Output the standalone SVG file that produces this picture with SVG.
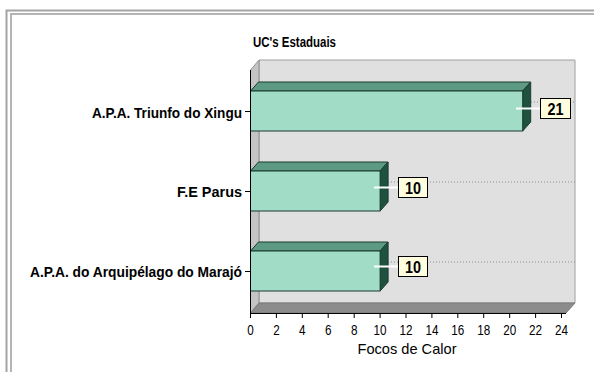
<svg xmlns="http://www.w3.org/2000/svg" width="594" height="372" viewBox="0 0 594 372">
<style>
.lbl{font-family:"Liberation Sans",Arial,sans-serif;font-weight:bold;font-size:14px;fill:#000}
.tick{font-family:"Liberation Sans",Arial,sans-serif;font-size:15px;fill:#000;text-anchor:middle}
.val{font-family:"Liberation Sans",Arial,sans-serif;font-weight:bold;font-size:16px;fill:#000;text-anchor:middle}
.front{fill:#a0dcc6;stroke:#1c3a30;stroke-width:1}
.top{fill:#5c9a83;stroke:#1c3a30;stroke-width:1}
.side{fill:#1f5141;stroke:#1c3a30;stroke-width:1}
.box{fill:#ffffe0;stroke:#000;stroke-width:1}
.conn{stroke:#ffffff;stroke-width:2}
.dot{stroke:#909090;stroke-width:1;stroke-dasharray:1 2}
.ax{stroke:#000;stroke-width:1;fill:none}
</style>
<rect width="594" height="372" fill="#ffffff"/>
<g id="frame" fill="none">
<path d="M6.5 380 V10.5 H600" stroke="#a4a4a4" stroke-width="2"/>
<path d="M11 380 V14 H600" stroke="#b4b4b4" stroke-width="2"/>
</g>
<text id="title" class="lbl" x="253" y="47" textLength="83" lengthAdjust="spacingAndGlyphs">UC's Estaduais</text>
<g id="plot">
<polygon points="259,60 575,60 575,303 259,303" fill="#e0e0e0" stroke="#a0a0a0" stroke-width="1"/>
<polygon points="250.5,70 259,60 259,303 250.5,313" fill="#c4c4c4" stroke="#909090" stroke-width="1"/>
<polygon points="250.5,313 259,303 575,303 566,313" fill="#8c8c8c" stroke="#7a7a7a" stroke-width="1"/>
</g>
<g id="connectors">
<line class="dot" x1="531" y1="102" x2="575" y2="102"/>
<line class="dot" x1="388" y1="182" x2="575" y2="182"/>
<line class="dot" x1="388" y1="262" x2="575" y2="262"/>
</g>
<g id="bar-xingu">
<polygon class="top" points="250.5,91 258.5,82 530.7,82 522.7,91"/>
<polygon class="side" points="522.7,91 530.7,82 530.7,122 522.7,131"/>
<rect class="front" x="250.5" y="91" width="272.2" height="40"/>
<line class="conn" x1="516" y1="108.5" x2="540" y2="108.5"/>
<rect class="box" x="540.5" y="98.5" width="30" height="20"/>
<text class="val" x="555.5" y="114.5" textLength="16" lengthAdjust="spacingAndGlyphs">21</text>
</g>
<g id="bar-parus">
<polygon class="top" points="250.5,171 258.5,162 388.1,162 380.1,171"/>
<polygon class="side" points="380.1,171 388.1,162 388.1,202 380.1,211"/>
<rect class="front" x="250.5" y="171" width="129.6" height="40"/>
<line class="conn" x1="374" y1="187.5" x2="398" y2="187.5"/>
<rect class="box" x="398.5" y="177.5" width="29" height="20"/>
<text class="val" x="413" y="193.5" textLength="16" lengthAdjust="spacingAndGlyphs">10</text>
</g>
<g id="bar-marajo">
<polygon class="top" points="250.5,251 258.5,242 388.1,242 380.1,251"/>
<polygon class="side" points="380.1,251 388.1,242 388.1,282 380.1,291"/>
<rect class="front" x="250.5" y="251" width="129.6" height="40"/>
<line class="conn" x1="374" y1="266.5" x2="398" y2="266.5"/>
<rect class="box" x="398.5" y="256.5" width="29" height="20"/>
<text class="val" x="413" y="272.5" textLength="16" lengthAdjust="spacingAndGlyphs">10</text>
</g>
<g id="axes">
<path class="ax" d="M250.5 70 V313.5 H566"/>
<path class="ax" d="M245 111.5 H250.5 M245 191.5 H250.5 M245 271.5 H250.5"/>
<path class="ax" d="M250.5 313 V318 M276.4 313 V318 M302.3 313 V318 M328.2 313 V318 M354.2 313 V318 M380.1 313 V318 M406 313 V318 M431.9 313 V318 M457.8 313 V318 M483.7 313 V318 M509.7 313 V318 M535.6 313 V318 M561.5 313 V318"/>
</g>
<g id="labels">
<text class="lbl" x="242" y="118" text-anchor="end" textLength="150" lengthAdjust="spacingAndGlyphs">A.P.A. Triunfo do Xingu</text>
<text class="lbl" x="242" y="197" text-anchor="end" textLength="65" lengthAdjust="spacingAndGlyphs">F.E Parus</text>
<text class="lbl" x="242" y="277" text-anchor="end" textLength="212" lengthAdjust="spacingAndGlyphs">A.P.A. do Arquipélago do Marajó</text>
</g>
<g id="ticklabels">
<text class="tick" x="250.5" y="335" textLength="6.5" lengthAdjust="spacingAndGlyphs">0</text>
<text class="tick" x="276.4" y="335" textLength="6.5" lengthAdjust="spacingAndGlyphs">2</text>
<text class="tick" x="302.3" y="335" textLength="6.5" lengthAdjust="spacingAndGlyphs">4</text>
<text class="tick" x="328.2" y="335" textLength="6.5" lengthAdjust="spacingAndGlyphs">6</text>
<text class="tick" x="354.2" y="335" textLength="6.5" lengthAdjust="spacingAndGlyphs">8</text>
<text class="tick" x="380.1" y="335" textLength="13" lengthAdjust="spacingAndGlyphs">10</text>
<text class="tick" x="406" y="335" textLength="13" lengthAdjust="spacingAndGlyphs">12</text>
<text class="tick" x="431.9" y="335" textLength="13" lengthAdjust="spacingAndGlyphs">14</text>
<text class="tick" x="457.8" y="335" textLength="13" lengthAdjust="spacingAndGlyphs">16</text>
<text class="tick" x="483.7" y="335" textLength="13" lengthAdjust="spacingAndGlyphs">18</text>
<text class="tick" x="509.7" y="335" textLength="13" lengthAdjust="spacingAndGlyphs">20</text>
<text class="tick" x="535.6" y="335" textLength="13" lengthAdjust="spacingAndGlyphs">22</text>
<text class="tick" x="561.5" y="335" textLength="13" lengthAdjust="spacingAndGlyphs">24</text>
<text class="tick" x="407" y="354" textLength="99" lengthAdjust="spacingAndGlyphs">Focos de Calor</text>
</g>
</svg>
